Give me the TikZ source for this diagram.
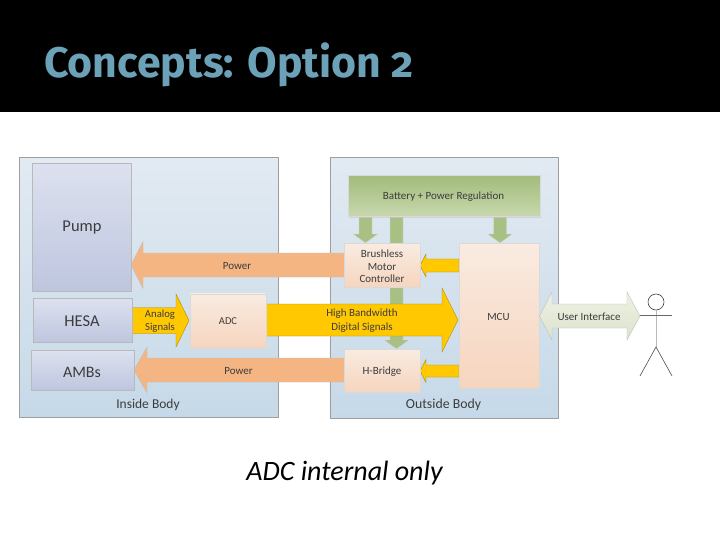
\documentclass[tikz,border=0pt]{standalone}
\usepackage{fontspec}
\setmainfont{Carlito}
\newfontfamily\titlefont[Numbers=OldStyle]{Fira Sans}
\usetikzlibrary{calc}
\definecolor{band}{HTML}{000000}
\definecolor{titleblue}{HTML}{6CA2B8}
\definecolor{txt}{HTML}{3C3C3C}
\definecolor{shaft}{HTML}{A9C084}
\definecolor{HTML-panelT}{HTML}{E2EAF2}
\definecolor{HTML-panelB}{HTML}{C6D9E8}
\definecolor{HTML-blueT}{HTML}{DDE1EF}
\definecolor{HTML-blueB}{HTML}{BEC6DF}
\definecolor{HTML-peachT}{HTML}{F9EBE1}
\definecolor{HTML-peachB}{HTML}{F6D5BE}
\definecolor{HTML-greenT}{HTML}{A2BC7B}
\definecolor{HTML-greenB}{HTML}{C8D8AE}
\definecolor{HTML-power}{HTML}{F5B583}
\definecolor{HTML-signal}{HTML}{FFC800}
\definecolor{HTML-sigD}{HTML}{A88A10}
\definecolor{HTML-uiT}{HTML}{EEF1E4}
\definecolor{HTML-uiB}{HTML}{DCE3CC}
\tikzset{
  x=1pt,y=-1pt,
  shad/.style={preaction={fill=black!22,opacity=.6,transform canvas={shift={(1.2pt,-1.2pt)}}}},
  box/.style={draw=#1,line width=.5pt,shad,rectangle,inner sep=0pt,anchor=north west,text=txt,align=center},
  panel/.style={box=gray!75,top color=HTML-panelT,bottom color=HTML-panelB},
  blue/.style={box=gray!55,top color=HTML-blueT,bottom color=HTML-blueB},
  peach/.style={box=gray!30,top color=HTML-peachT,bottom color=HTML-peachB},
  green/.style={box=gray!30,top color=HTML-greenT,bottom color=HTML-greenB},
  power/.style={draw=gray!50,line width=.4pt,fill=HTML-power},
  signal/.style={draw=HTML-sigD,line width=.4pt,fill=HTML-signal},
  feed/.style={draw=gray!30,line width=.4pt,fill=shaft},
  ui/.style={draw=gray!50,line width=.4pt,top color=HTML-uiT,bottom color=HTML-uiB},
  lab/.style={text=txt,font=\fontsize{11}{13}\selectfont,align=center,inner sep=0pt,yshift=-1pt},
}
% horizontal block arrow: style, tail x, tip x, head-base x, mid y, shaft half, head half
\newcommand{\harrow}[7]{\draw[#1] (#2,#5-#6) -- (#4,#5-#6) -- (#4,#5-#7) -- (#3,#5) -- (#4,#5+#7) -- (#4,#5+#6) -- (#2,#5+#6) -- cycle;}
% downward block arrow: mid x, top y, tip y, head-base y
\newcommand{\darrow}[4]{\draw[feed] (#1-6.5,#2) -- (#1+6.5,#2) -- (#1+6.5,#4) -- (#1+12.5,#4) -- (#1,#3) -- (#1-12.5,#4) -- (#1-6.5,#4) -- cycle;}
\begin{document}
\begin{tikzpicture}
\useasboundingbox (0,0) rectangle (720,540);
\fill[white] (0,0) rectangle (720,540);
\fill[band] (0,0) rectangle (720,112.5);
\node[anchor=base west,inner sep=0pt,text=titleblue,font=\titlefont\bfseries\fontsize{42.8}{43}\selectfont] (title) at (44,77.5) {Concepts: Option 2};

% panels
\node[panel,minimum width=258.5pt,minimum height=259.5pt] (inside) at (19,157) {};
\node[panel,minimum width=228.5pt,minimum height=260.5pt] (outside) at (329.5,157) {};
\node[lab,font=\fontsize{13.5}{14}\selectfont] (insidelab) at (148,403.5) {Inside Body};
\node[lab,font=\fontsize{13.8}{14}\selectfont] (outsidelab) at (443.5,404) {Outside Body};

% feeds
\darrow{365.5}{216}{243}{234}
\darrow{396.5}{216}{349}{340}
\darrow{500}{216}{243}{234}

% power arrows
\harrow{power}{345}{131}{143}{265}{12}{23.5}
\harrow{power}{345}{134}{147}{370}{12}{23}

% signals
\harrow{signal}{132}{189}{176}{320.5}{13}{26.5}
\harrow{signal}{265}{458}{442}{320}{16}{32}
\harrow{signal}{459}{420}{426}{265.5}{6.5}{11.5}
\harrow{signal}{459}{420}{426}{371}{6}{11.5}

% boxes
\node[blue,minimum width=99pt,minimum height=127pt] (pump) at (32,163.5) {};
\node[blue,minimum width=99pt,minimum height=44pt] (hesa) at (33,298) {};
\node[blue,minimum width=103pt,minimum height=40pt] (ambs) at (31,350) {};
\node[peach,minimum width=76pt,minimum height=54pt] (adc) at (189.5,293.5) {};
\node[green,minimum width=192pt,minimum height=41pt] (batt) at (348,175.5) {};
\node[peach,minimum width=76pt,minimum height=44pt] (bldc) at (344,243) {};
\node[peach,minimum width=76pt,minimum height=43pt] (hb) at (344,349) {};
\node[peach,minimum width=80pt,minimum height=145pt] (mcu) at (459,243) {};

% box labels
\node[lab,font=\fontsize{16.5}{16}\selectfont] (pumpl) at (82,226.5) {Pump};
\node[lab,font=\fontsize{16.5}{16}\selectfont] (hesal) at (82,320.5) {HESA};
\node[lab,font=\fontsize{16}{16}\selectfont] (ambsl) at (82,371) {AMBs};
\node[lab,font=\fontsize{10.5}{12}\selectfont] (adcl) at (228,320) {ADC};
\node[lab] (battl) at (443.5,196) {Battery + Power Regulation};
\node[lab,font=\fontsize{11}{12.6}\selectfont] (bldcl) at (382,265.5) {Brushless\\Motor\\Controller};
\node[lab] (hbl) at (382,370.5) {H-Bridge};
\node[lab] (mcul) at (498.5,315.5) {MCU};
\node[lab] (power1) at (237,265.5) {Power};
\node[lab] (power2) at (238.5,370.5) {Power};
\node[lab,font=\fontsize{10.7}{13}\selectfont] (analog) at (160,320) {Analog\\Signals};
\node[lab,font=\fontsize{11}{14}\selectfont] (hbw) at (362,320) {High Bandwidth\\Digital Signals};

% user interface
\shade[ui] (552,304) -- (552,292) -- (539.5,316) -- (552,340) -- (552,328) -- (627,328) -- (627,340) -- (640,316) -- (627,292) -- (627,304) -- cycle;
\node[lab] (uil) at (589,315.5) {User Interface};

% stick figure
\node[circle,draw=black!75,line width=.6pt,minimum size=16pt,inner sep=0pt] (shead) at (656,302) {};
\coordinate (hip) at (656,347);
\coordinate (arml) at (640,315.5);
\coordinate (armr) at (672,315.5);
\coordinate (legl) at (640,376);
\coordinate (legr) at (672,376);
\draw[gray!55,line width=.7pt] (shead.south) -- (hip);
\draw[black!60,line width=1.1pt] (arml) -- (armr);
\draw[black!70,line width=.6pt] (legl) -- (hip) -- (legr);

\node[anchor=center,inner sep=0pt,text=black,font=\itshape\fontsize{28}{28}\selectfont] (cap) at (344.5,473.5) {ADC internal only};
\end{tikzpicture}
\end{document}
